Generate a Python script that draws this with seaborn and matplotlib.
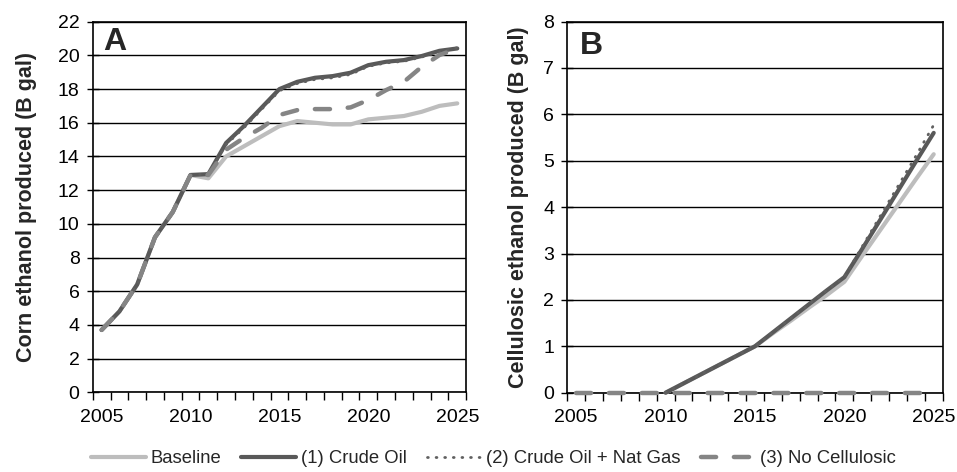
import numpy as np
import pandas as pd
import matplotlib
matplotlib.use("Agg")
import matplotlib.pyplot as plt
import seaborn as sns

years = list(range(2005, 2026))

# Panel A: corn ethanol produced (B gal)
corn_baseline = [3.7, 4.8, 6.4, 9.2, 10.7, 12.9, 12.7, 14.0, 14.6, 15.2, 15.8, 16.1, 16.0, 15.9, 15.9, 16.2, 16.3, 16.4, 16.65, 17.0, 17.15]
corn_crude = [3.7, 4.8, 6.4, 9.2, 10.7, 12.9, 12.95, 14.8, 15.8, 16.9, 18.0, 18.43, 18.67, 18.77, 18.97, 19.42, 19.62, 19.72, 19.96, 20.27, 20.41]
corn_natgas = [3.7, 4.8, 6.4, 9.2, 10.7, 12.9, 12.95, 14.7, 15.7, 16.8, 17.9, 18.33, 18.57, 18.67, 18.87, 19.35, 19.55, 19.65, 19.9, 20.2, 20.45]
corn_nocell = [3.7, 4.8, 6.4, 9.2, 10.7, 12.9, 12.9, 14.4, 15.1, 15.7, 16.46, 16.75, 16.81, 16.81, 16.91, 17.35, 17.94, 18.43, 19.32, 20.02, 20.41]

# Panel B: cellulosic ethanol produced (B gal)
nan = np.nan
cell_baseline = [nan, nan, nan, nan, nan, 0.0, 0.2, 0.4, 0.6, 0.8, 1.0, 1.28, 1.55, 1.83, 2.1, 2.39, 2.95, 3.5, 4.05, 4.6, 5.14]
cell_crude = [nan, nan, nan, nan, nan, 0.0, 0.2, 0.4, 0.6, 0.8, 1.0, 1.3, 1.6, 1.9, 2.2, 2.49, 3.1, 3.72, 4.35, 4.98, 5.6]
cell_natgas = [nan, nan, nan, nan, nan, 0.0, 0.2, 0.4, 0.6, 0.8, 1.0, 1.3, 1.6, 1.9, 2.2, 2.49, 3.15, 3.8, 4.45, 5.1, 5.77]
cell_nocell = [0.0] * 21

series_names = ["Baseline", "(1) Crude Oil", "(2) Crude Oil + Nat Gas", "(3) No Cellulosic"]
colors = ["#bdbdbd", "#595959", "#606060", "#858585"]

sns.set_theme(style="white")
plt.rcParams["font.family"] = ["Liberation Sans", "DejaVu Sans"]

fig = plt.figure(figsize=(9.57, 4.72), dpi=100)
axA = fig.add_axes([0.0969, 0.1689, 0.3902, 0.7852])
axB = fig.add_axes([0.5928, 0.1680, 0.3922, 0.7864])

TICK_FS = 14

def draw(ax, data):
    for name, vals, col in zip(series_names, data, colors):
        df = pd.DataFrame({"year": years, "value": vals}).dropna()
        if name.startswith("(2)"):
            kw = dict(lw=2.0, dashes=(0.3, 2.8), dash_capstyle="round")
        elif name.startswith("(3)"):
            kw = dict(lw=3.2, dashes=(3.4, 4.0), dash_capstyle="round")
        else:
            kw = dict(lw=3.0, solid_capstyle="round")
        sns.lineplot(data=df, x="year", y="value", ax=ax, color=col, label=name,
                     legend=False, zorder=3, clip_on=False, **kw)
    ax.set_xlim(2004.5, 2025.5)
    ax.set_xticks(range(2005, 2026, 5))
    ax.set_xticks(np.arange(2004.5, 2026, 1.0), minor=True)
    ax.tick_params(axis="x", which="major", length=0, pad=12, labelsize=TICK_FS, colors="black")
    ax.tick_params(axis="x", which="minor", length=6, width=1, direction="out", bottom=True, color="black")
    ax.tick_params(axis="y", which="major", length=9, width=1, direction="inout", left=True,
                   labelsize=TICK_FS, pad=5, colors="black")
    ax.yaxis.grid(True, color="black", lw=1.0)
    ax.set_axisbelow(True)
    for s in ax.spines.values():
        s.set_visible(True)
        s.set_color("black")
        s.set_linewidth(1.2)
        s.set_zorder(2.5)
    ax.set_xlabel("")

draw(axA, [corn_baseline, corn_crude, corn_natgas, corn_nocell])
axA.set_ylim(0, 22)
axA.set_yticks(range(0, 23, 2))
axA.set_ylabel("Corn ethanol produced (B gal)", fontsize=15.5, fontweight="bold")
axA.yaxis.set_label_coords(-0.150, 0.5)
axA.text(0.027, 0.985, "A", transform=axA.transAxes, fontsize=23, fontweight="bold", va="top", ha="left")

draw(axB, [cell_baseline, cell_crude, cell_natgas, cell_nocell])
axB.set_ylim(0, 8)
axB.set_yticks(range(0, 9, 1))
axB.set_ylabel("Cellulosic ethanol produced (B gal)", fontsize=15.5, fontweight="bold")
axB.yaxis.set_label_coords(-0.103, 0.5)
axB.text(0.034, 0.975, "B", transform=axB.transAxes, fontsize=23, fontweight="bold", va="top", ha="left")

handles, labels = axA.get_legend_handles_labels()
fig.legend(handles, labels, loc="center", bbox_to_anchor=(0.5157, 0.028), ncol=4, frameon=False,
           fontsize=13.3, handlelength=2.97, handletextpad=0.25, columnspacing=1.08)

fig.savefig("out.png", dpi=100)
